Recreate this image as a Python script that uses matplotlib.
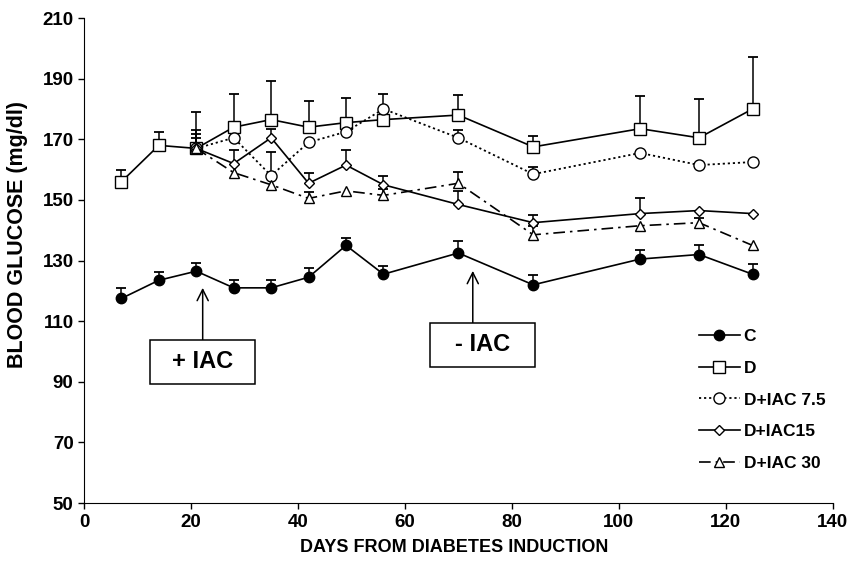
import numpy as np
from matplotlib import pyplot as plt
from matplotlib.patches import Rectangle

plt.rcParams["font.family"] = ["Liberation Sans", "DejaVu Sans"]
plt.rcParams["font.weight"] = "bold"

days = np.array([7, 14, 21, 28, 35, 42, 49, 56, 70, 84, 104, 115, 125])
dias_trat = days[2:]

c = np.array([117.5, 123.5, 126.5, 121, 121, 124.5, 135, 125.5, 132.5, 122, 130.5, 132, 125.5])
c_err = np.array([3.3, 2.8, 2.8, 2.5, 2.5, 3.1, 2.6, 2.6, 4.1, 3.3, 3.1, 3.1, 3.3])

d = np.array([156, 168, 167, 174, 176.5, 174, 175.5, 176.5, 178, 167.5, 173.5, 170.5, 180])
d_err = np.array([4, 4.4, 12, 11, 12.6, 8.7, 8, 0, 6.6, 3.6, 10.8, 12.9, 17])

iac75 = np.array([167, 170.5, 158, 169, 172.5, 180, 170.5, 158.5, 165.5, 161.5, 162.5])
iac75_err = np.array([6, 0, 7.7, 0, 0, 5, 2.5, 2.5, 0, 0, 0])

iac15 = np.array([167, 162, 170.5, 155.5, 161.5, 155, 148.5, 142.5, 145.5, 146.5, 145.5])
iac15_err = np.array([4.8, 4.4, 3, 3.5, 5, 3, 4.4, 2.5, 5, 0, 0])

iac30 = np.array([167, 159, 155, 150.5, 153, 151.5, 155.5, 138.5, 141.5, 142.5, 135])
iac30_err = np.array([3.4, 0, 0, 2, 0, 2, 3.6, 2.8, 0, 1.5, 0])

# caixas das setas: (x0, x1, y0, y1) em dias / mg/dl, ponta da seta (x, y)
caixa_mais = (12.3, 32.0, 89.3, 103.8)
seta_mais = (22.2, 121)
caixa_menos = (64.7, 84.3, 94.9, 109.4)
seta_menos = (72.7, 126.6)

fig = plt.figure(figsize=(8.48, 5.64), dpi=100)
ax = fig.add_axes([0.099, 0.108, 0.883, 0.860])


def barras(x, y, e):
    # so a parte de cima do erro, com o "T"
    m = e > 0
    ax.vlines(x[m], y[m], y[m] + e[m], color="black", lw=1.1, zorder=2)
    ax.plot(x[m], y[m] + e[m], ls="none", marker="_", ms=7, mew=1.3, color="black", zorder=2)


barras(days, c, c_err)
barras(days, d, d_err)
barras(dias_trat, iac75, iac75_err)
barras(dias_trat, iac15, iac15_err)
barras(dias_trat, iac30, iac30_err)

ax.plot(days, c, "-", color="black", lw=1.2, marker="o", ms=7.5, mfc="black", mec="black", label="C", zorder=3)
ax.plot(days, d, "-", color="black", lw=1.2, marker="s", ms=8, mfc="white", mec="black", label="D", zorder=3)
ax.plot(dias_trat, iac75, ls=(0, (1.2, 1.6)), color="black", lw=1.3, marker="o", ms=8, mfc="white", mec="black",
        label="D+IAC 7.5", zorder=3)
ax.plot(dias_trat, iac15, "-", color="black", lw=1.2, marker="D", ms=5.5, mfc="white", mec="black",
        label="D+IAC15", zorder=3)
ax.plot(dias_trat, iac30, ls=(0, (7, 3, 1.5, 3)), color="black", lw=1.2, marker="^", ms=7.5, mfc="white",
        mec="black", label="D+IAC 30", zorder=3)


def caixa(texto, cx, seta):
    x0, x1, y0, y1 = cx
    ax.add_patch(Rectangle((x0, y0), x1 - x0, y1 - y0, fc="white", ec="black", lw=1.1, zorder=4))
    ax.text((x0 + x1) / 2, (y0 + y1) / 2, texto, ha="center", va="center", fontsize=17, zorder=5)
    ax.annotate("", xy=seta, xytext=(seta[0], y1),
                arrowprops=dict(arrowstyle="->", lw=1.1, color="black", mutation_scale=20, shrinkA=0, shrinkB=0))


caixa("+ IAC", caixa_mais, seta_mais)
caixa("- IAC", caixa_menos, seta_menos)

ax.set_xlim(0, 140)
ax.set_ylim(50, 210)
ax.set_xticks(range(0, 141, 20))
ax.set_yticks(range(50, 211, 20))
ax.tick_params(labelsize=13.5, length=4, width=1, direction="out")
for s in ["top", "right"]:
    ax.spines[s].set_visible(False)

ax.set_xlabel("DAYS FROM DIABETES INDUCTION", fontsize=13, fontweight="bold")
ax.set_ylabel("BLOOD GLUCOSE (mg/dl)", fontsize=15.5, fontweight="bold")
ax.xaxis.set_label_coords(0.495, -0.075)
ax.yaxis.set_label_coords(-0.075, 0.553)

ax.legend(loc="upper left", bbox_to_anchor=(0.80, 0.391), frameon=False, fontsize=12.5,
          handlelength=2.4, handletextpad=0.2, labelspacing=0.95)

plt.savefig("out.png")
